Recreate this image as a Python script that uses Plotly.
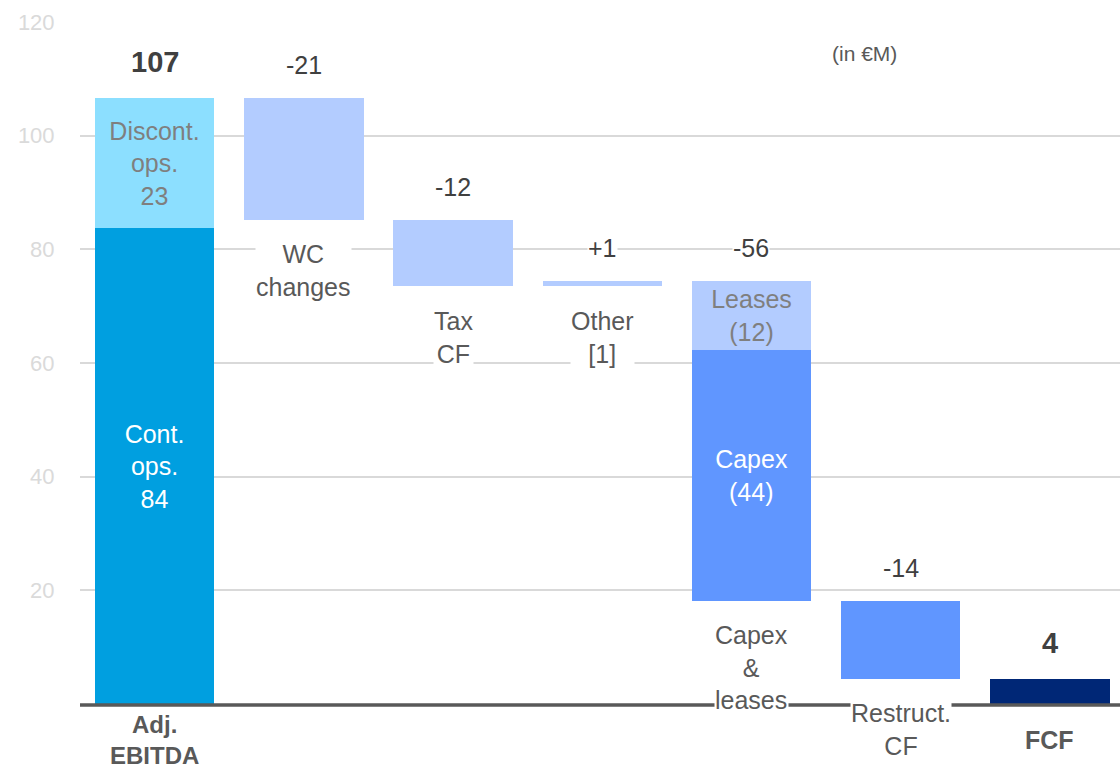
import plotly.graph_objects as go

# Bridge from Adj. EBITDA to free cash flow, in €M
categories = ["Adj.<br>EBITDA", "WC<br>changes", "Tax<br>CF", "Other<br>[1]",
              "Capex<br>&<br>leases", "Restruct.<br>CF", "FCF"]
ebitda_cont = 83.8
ebitda_discont = 22.8
step_values = [-21.4, -11.7, 1.0]
leases = -12.2
capex = -44.2
restruct = -13.7
y_ticks = [20, 40, 60, 80, 100, 120]

FONT = "Liberation Sans, Arial, sans-serif"
C_CONT = "#009FE0"
C_DISC = "#8CDFFF"
C_LIGHT = "#B3CCFF"
C_MID = "#6096FF"
C_DARK = "#002776"
TXT = "#404040"
CAT_TXT = "#595959"
INSIDE_GRAY = "#7F7F7F"
BASE_SIZE = 25

BAR_W = 0.8

fig = go.Figure()


def add_bar(x, base, height, color, text=None, text_color="white"):
    fig.add_trace(go.Bar(
        x=[x], y=[height], base=[base], width=BAR_W,
        marker=dict(color=color, line=dict(width=0)),
        text=[text] if text else None,
        textposition="inside" if text else "none",
        insidetextanchor="middle", textangle=0, constraintext="none",
        textfont=dict(family=FONT, size=BASE_SIZE, color=text_color),
        hoverinfo="skip", showlegend=False,
    ))


annotations = []


def label(x, y, text, shift, bold=False, size=BASE_SIZE, color=TXT, bg="white"):
    annotations.append(dict(
        x=x, y=y, xref="x", yref="y", text=f"<b>{text}</b>" if bold else text,
        showarrow=False, yanchor="middle", yshift=shift,
        font=dict(family=FONT, size=size, color=color),
        bgcolor=bg, borderpad=0,
    ))


# Adj. EBITDA: continuing + discontinued operations
ebitda_total = ebitda_cont + ebitda_discont
add_bar(0, 0, ebitda_cont, C_CONT, f"Cont.<br>ops.<br>{ebitda_cont:.0f}", "white")
add_bar(0, ebitda_cont, ebitda_discont, C_DISC,
        f"Discont.<br>ops.<br>{ebitda_discont:.0f}", INSIDE_GRAY)
label(0, ebitda_total, f"{ebitda_total:.0f}", 36, bold=True, size=29)
label(0, 0, categories[0], -36, bold=True, size=24, color=CAT_TXT,
      bg="rgba(0,0,0,0)")

# Working capital, tax and other steps
level = ebitda_total
bottoms = []
for i, v in enumerate(step_values, start=1):
    lo, hi = min(level, level + v), max(level, level + v)
    add_bar(i, lo, hi - lo, C_LIGHT)
    label(i, hi, f"{v:+.0f}" if v > 0 else f"{v:.0f}", 33)
    bottoms.append(lo)
    level += v

label(1, bottoms[0], categories[1], -51, color=CAT_TXT)
# Tax and Other captions share one line height
label(2, bottoms[1], categories[2], -51, color=CAT_TXT)
label(3, bottoms[1], categories[3], -51, color=CAT_TXT)

# Capex & leases
top = level
add_bar(4, top + leases, -leases, C_LIGHT, f"Leases<br>({-leases:.0f})", INSIDE_GRAY)
add_bar(4, top + leases + capex, -capex, C_MID, f"Capex<br>({-capex:.0f})", "white")
level = top + leases + capex
label(4, top, f"{leases + capex:.0f}", 33)
label(4, level, categories[4], -66, color=CAT_TXT)

# Restructuring cash flow
add_bar(5, level + restruct, -restruct, C_MID)
label(5, level, f"{restruct:.0f}", 33)
level += restruct
label(5, level, categories[5], -51, color=CAT_TXT)

# Free cash flow
fcf = level
add_bar(6, 0, fcf, C_DARK)
label(6, fcf, f"{fcf:.0f}", 36, bold=True, size=29)
label(6, 0, categories[6], -36, bold=True, color=CAT_TXT)

# Unit note
annotations.append(dict(
    x=(864 - 80) / 1040.0, y=(704 - 54) / 682.0, xref="paper", yref="paper",
    xanchor="center", yanchor="middle", text="(in €M)", showarrow=False,
    font=dict(family=FONT, size=21, color=CAT_TXT),
))

fig.update_layout(
    width=1120, height=770,
    margin=dict(l=80, r=0, t=22, b=66),
    paper_bgcolor="white", plot_bgcolor="white",
    barmode="overlay", bargap=0,
    xaxis=dict(range=[-0.5, 6.47], showticklabels=False, showgrid=False,
               zeroline=False, showline=False, fixedrange=True),
    yaxis=dict(range=[0, 120], tickvals=y_ticks, showgrid=True,
               gridcolor="#D9D9D9", gridwidth=1.5, zeroline=False,
               showline=False, ticks="outside", ticklen=20,
               tickcolor="rgba(0,0,0,0)",
               tickfont=dict(family=FONT, size=22, color="#DADADA")),
    shapes=[dict(type="line", xref="paper", yref="paper", x0=0, x1=1.01,
                 y0=-0.0015, y1=-0.0015,
                 line=dict(color="#595959", width=3.5), layer="above")],
    annotations=annotations,
    font=dict(family=FONT),
)

fig.write_html("out.html")
